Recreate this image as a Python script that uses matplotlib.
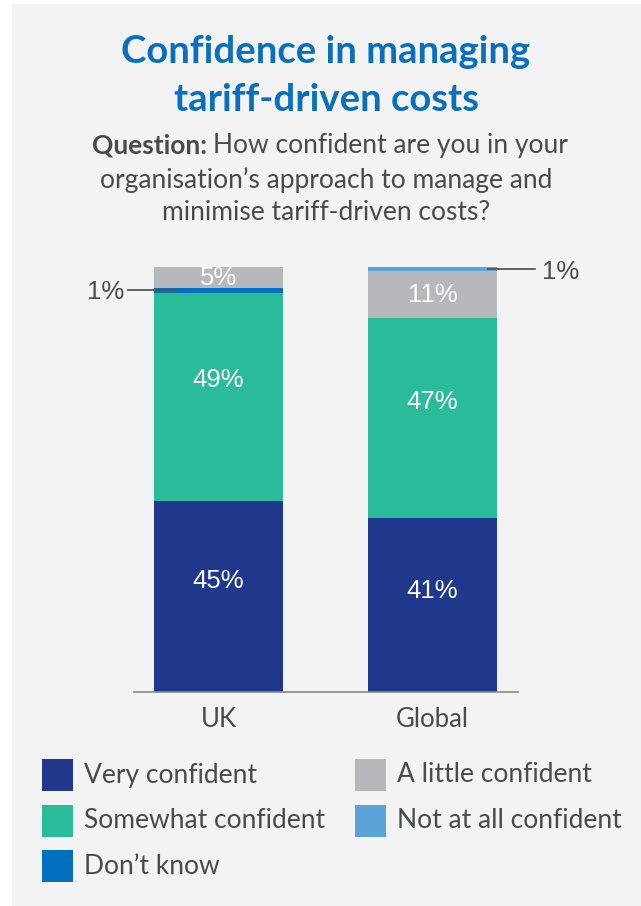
import matplotlib.pyplot as plt
from matplotlib.patches import Rectangle

# data
groups = ['UK', 'Global']
series = ['Very confident', 'Somewhat confident', "Don\u2019t know",
          'A little confident', 'Not at all confident']
very = [45, 41]
somewhat = [49, 47]
dont_know = [1, 0]
little = [5, 11]
not_at_all = [0, 1]
colors = ['#20388c', '#2abb9b', '#0070bf', '#b6b8bc', '#5ba3d9']

W, H = 641, 906
BG = '#f3f3f3'
TXT = '#484b4a'
BLUE = '#0a6fbf'
MAIN = 'Lato'
NUM = 'Liberation Sans'


def fx(x):
    return x / W


def fy(y):
    return 1 - y / H


fig = plt.figure(figsize=(W / 100, H / 100), dpi=100)
fig.patch.set_facecolor('white')
fig.add_artist(Rectangle((fx(12), 0), 1 - fx(12), fy(4), transform=fig.transFigure,
                         facecolor=BG, edgecolor='none', zorder=0))

# title + question
fig.text(fx(326), fy(52), 'Confidence in managing', ha='center', va='center',
         fontsize=27.5, fontweight='bold', color=BLUE, family=MAIN)
fig.text(fx(326), fy(100), 'tariff-driven costs', ha='center', va='center',
         fontsize=27.5, fontweight='bold', color=BLUE, family=MAIN)

QS = 19
q1 = fig.text(fx(92), fy(146), 'Question:', ha='left', va='center',
              fontsize=QS, fontweight='bold', color=TXT, family=MAIN)
fig.canvas.draw()
bb = q1.get_window_extent()
fig.text(fx(bb.x1 + 6), fy(146), 'How confident are you in your', ha='left', va='center',
         fontsize=QS, color=TXT, family=MAIN)
fig.text(fx(326), fy(180), 'organisation\u2019s approach to manage and', ha='center',
         va='center', fontsize=QS, color=TXT, family=MAIN)
fig.text(fx(326), fy(213), 'minimise tariff-driven costs?', ha='center', va='center',
         fontsize=QS, color=TXT, family=MAIN)

# bars
ax = fig.add_axes([fx(134), fy(692), (518 - 134) / W, (692 - 267) / H])
ax.set_facecolor('none')
x = [0, 1]
bottom = [0, 0]
stack = [very, somewhat, dont_know, little, not_at_all]
for vals, c in zip(stack, colors):
    ax.bar(x, vals, bottom=bottom, width=0.603, color=c, zorder=2)
    for i, v in enumerate(vals):
        if v >= 5:
            frac = 0.58 if v > 20 else 0.5
            ax.text(x[i], bottom[i] + v * frac, f'{v}%', ha='center', va='center',
                    color='white', fontsize=18.5, family=NUM)
    bottom = [b + v for b, v in zip(bottom, vals)]

ax.set_xlim(-0.395, 1.4)
ax.set_ylim(0, 100)
for s in ['top', 'right', 'left']:
    ax.spines[s].set_visible(False)
ax.spines['bottom'].set_color('#8a8a8a')
ax.spines['bottom'].set_linewidth(1.2)
ax.set_yticks([])
ax.set_xticks(x)
ax.set_xticklabels(groups, fontsize=18.5, color=TXT, family=MAIN)
ax.tick_params(axis='x', length=0, pad=11)

# callouts for 1% segments
uk_y = very[0] + somewhat[0] + dont_know[0] / 2
ax.plot([-0.423, -0.199], [uk_y, uk_y], color='#555555', lw=1.3, clip_on=False, zorder=3)
ax.text(-0.44, uk_y - 0.4, f'{dont_know[0]}%', ha='right', va='center', fontsize=18.5,
        color=TXT, family=NUM)
gl_y = 100 - not_at_all[1] / 2
ax.plot([1.259, 1.479], [gl_y, gl_y], color='#555555', lw=1.3, clip_on=False, zorder=3)
ax.text(1.512, gl_y - 0.6, f'{not_at_all[1]}%', ha='left', va='center', fontsize=18.5,
        color=TXT, family=NUM)

# legend
leg_pos = [(42, 775), (42, 821), (42, 866), (355, 775), (355, 821)]
for (lx, ly), k in zip(leg_pos, range(len(series))):
    fig.add_artist(Rectangle((fx(lx), fy(ly + 16)), 31 / W, 32 / H,
                             transform=fig.transFigure, facecolor=colors[k],
                             edgecolor='none'))
    fig.text(fx(lx + 42), fy(ly), series[k], ha='left', va='center', fontsize=19,
             color=TXT, family=MAIN)

fig.savefig('out.png', dpi=100, facecolor=fig.get_facecolor())
